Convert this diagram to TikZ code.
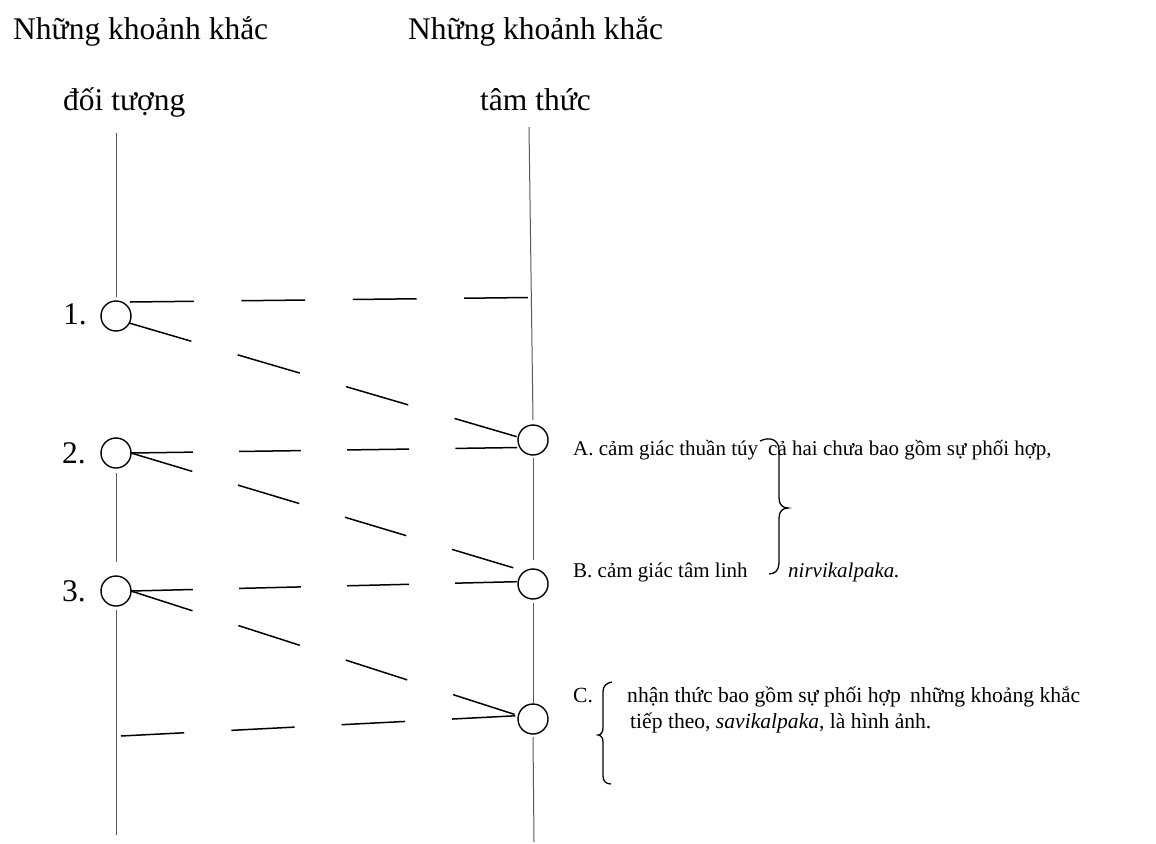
\documentclass[tikz,border=0pt]{standalone}
\usepackage{fontspec}
\setmainfont{Liberation Serif}
\begin{document}
\begin{tikzpicture}[x=1pt,y=-1pt,
  vline/.style={line width=1pt,draw=black!65},
  moment/.style={circle,draw,line width=1.4pt,minimum size=30pt,inner sep=0pt,outer sep=0pt},
  big/.style={anchor=base west,inner sep=0pt,font=\fontsize{31.5}{36}\selectfont},
  small/.style={anchor=base west,inner sep=0pt,font=\fontsize{21}{25}\selectfont},
  smallc/.style={anchor=base west,inner sep=0pt,font=\fontsize{21.6}{25}\selectfont},
  dl/.style={line width=1.5pt},
  bracestyle/.style={line width=1.3pt}]
\useasboundingbox (0,0) rectangle (1156,843);

% titles
\node[big] (t1) at (13,40) {Những khoảnh khắc};
\node[big] (t1b) at (63,110) {đối tượng};
\node[big] (t2) at (408,40) {Những khoảnh khắc};
\node[big] (t2b) at (480,110) {tâm thức};

% object moments
\node[moment] (c1) at (116,316) {};
\node[moment] (c2) at (116,453) {};
\node[moment] (c3) at (116,591) {};
\node[big] (n1) at (63,324) {1.};
\node[big] (n2) at (62,463) {2.};
\node[big] (n3) at (62,601) {3.};

% mind moments
\node[moment] (A) at (533,440) {};
\node[moment] (B) at (533,584) {};
\node[moment] (C) at (533,719) {};

% vertical lines
\coordinate (ltop) at (116,133);
\coordinate (lbot) at (116,835);
\coordinate (rtop) at (529,127);
\coordinate (rbot) at (534,842);
\draw[vline] (ltop) -- ([yshift=4pt]c1.north);
\draw[vline] ([yshift=-5pt]c2.south) -- ([yshift=14pt]c3.north);
\draw[vline] ([yshift=-4pt]c3.south) -- (lbot);
\draw[vline] (rtop) -- ([yshift=5pt]A.north);
\draw[vline] ([yshift=-3pt]A.south) -- ([yshift=9pt]B.north);
\draw[vline] ([yshift=-4pt]B.south) -- ([yshift=1pt]C.north);
\draw[vline] ([yshift=-3pt]C.south) -- (rbot);

% dashed connectors
\coordinate (s1h) at (130,302);
\coordinate (e1h) at (529,297.5);
\coordinate (e2d) at (514,568);
\coordinate (s4) at (121,736);
\draw[dl,dash pattern=on 63.8pt off 47.6pt] (s1h) -- (e1h);
\draw[dl,dash pattern=on 64.7pt off 48.3pt] (c1.-28) -- (A.169);
\draw[dl,dash pattern=on 61.9pt off 46.2pt] (c2.east) -- (A.210);
\draw[dl,dash pattern=on 64pt off 47.7pt] (c2.east) -- (e2d);
\draw[dl,dash pattern=on 61.9pt off 46.2pt] (c3.east) -- (B.171);
\draw[dl,dash pattern=on 64.6pt off 48.2pt] (c3.east) -- (C.167);
\draw[dl,dash pattern=on 63.3pt off 47.2pt] (s4) -- (C.167);

% descriptions
\node[small] (ta) at (573,455) {A. cảm giác thuần túy};
\node[small] (tab) at (768,455) {cả hai chưa bao gồm sự phối hợp,};
\node[small] (tb) at (573,577) {B. cảm giác tâm linh};
\node[small] (tbb) at (788,577) {\itshape nirvikalpaka.};
\node[smallc] (tc) at (573,702) {C.};
\node[smallc] (tc1) at (627,702) {nhận thức bao gồm sự phối hợp\hspace{4pt} những khoảng khắc};
\node[smallc] (tc2) at (630,728) {tiếp theo, \textit{savikalpaka}, là hình ảnh.};

% braces
\draw[bracestyle] (760,441) .. controls (770,436) and (779,440) .. (779,450) -- (779,498)
  .. controls (779,505) and (783,508) .. (788,508)
  .. controls (783,508) and (779,511) .. (779,518) -- (779,563)
  .. controls (779,570) and (775,574) .. (769,574);
\draw[bracestyle] (612,682) .. controls (606,683) and (603,686) .. (603,692) -- (603,728)
  .. controls (603,732) and (601,735) .. (598,735)
  .. controls (601,735) and (603,738) .. (603,742) -- (603,776)
  .. controls (603,781) and (606,784) .. (611,784);
\end{tikzpicture}
\end{document}
